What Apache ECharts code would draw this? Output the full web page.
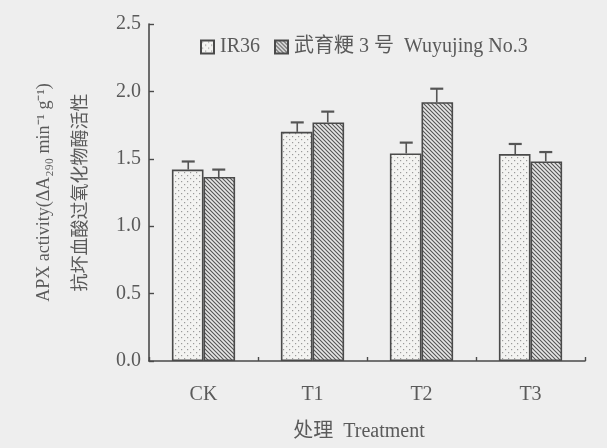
<!DOCTYPE html>
<html><head><meta charset="utf-8">
<script src="https://cdn.jsdelivr.net/npm/echarts@6/dist/echarts.min.js"></script>
<style>html,body{margin:0;padding:0;background:#eeeeee}#c{width:607px;height:448px}</style>
</head><body><div id="c"></div>
<script>
const categories = ['CK', 'T1', 'T2', 'T3'];
const ir36 = [1.42, 1.70, 1.54, 1.535];
const ir36Err = [0.06, 0.07, 0.08, 0.075];
const wyj = [1.365, 1.77, 1.92, 1.48];
const wyjErr = [0.055, 0.08, 0.10, 0.07];
const seriesNames = ['IR36', '武育粳 3 号  Wuyujing No.3'];
const yTicks = [0, 0.5, 1.0, 1.5, 2.0, 2.5];

function dotPattern() {
  const c = document.createElement('canvas'); c.width = 6; c.height = 6;
  const g = c.getContext('2d');
  g.fillStyle = '#f3f3f1'; g.fillRect(0, 0, 6, 6);
  g.fillStyle = '#9a9a9a';
  g.fillRect(1, 1, 1.2, 1.2); g.fillRect(4, 4, 1.2, 1.2);
  return c;
}
function hatchPattern() {
  const s = 4;
  const c = document.createElement('canvas'); c.width = s; c.height = s;
  const g = c.getContext('2d');
  g.fillStyle = '#e6e6e6'; g.fillRect(0, 0, s, s);
  g.strokeStyle = '#555'; g.lineWidth = 1.1;
  g.beginPath();
  g.moveTo(-1, -1); g.lineTo(s + 1, s + 1);
  g.moveTo(-1, s - 1); g.lineTo(1, s + 1);
  g.moveTo(s - 1, -1); g.lineTo(s + 1, 1);
  g.stroke();
  return c;
}

const font = "'Liberation Serif', 'Noto Sans CJK SC', serif";
const txt = '#5a5a5a';

function errSeries(vals, errs, side) {
  return {
    type: 'custom',
    z: 5,
    silent: true,
    data: vals.map((v, i) => [i, v, errs[i]]),
    encode: { x: 0, y: 1 },
    renderItem: function (params, api) {
      const i = api.value(0), v = api.value(1), e = api.value(2);
      const band = api.size([1, 0])[0];
      const off = band * 0.14 * side;
      const p0 = api.coord([i, v]);
      const p1 = api.coord([i, v + e]);
      const x = p0[0] + off;
      const cap = 6.5;
      return {
        type: 'group',
        children: [
          { type: 'line', shape: { x1: x, y1: p0[1], x2: x, y2: p1[1] }, style: { stroke: '#555', lineWidth: 1.6 } },
          { type: 'line', shape: { x1: x - cap, y1: p1[1], x2: x + cap, y2: p1[1] }, style: { stroke: '#555', lineWidth: 2.2 } }
        ]
      };
    }
  };
}

const chart = echarts.init(document.getElementById('c'));
chart.setOption({
  backgroundColor: '#eeeeee',
  animation: false,
  grid: { left: 149, right: 22, top: 24, bottom: 87 },
  legend: {
    left: 195, top: 32,
    itemWidth: 13, itemHeight: 13, itemGap: 14,
    icon: 'rect',
    data: seriesNames,
    textStyle: { fontFamily: font, fontSize: 20, color: txt, padding: [0, 0, 0, 1] }
  },
  xAxis: {
    type: 'category',
    data: categories,
    name: '处理  Treatment',
    nameLocation: 'middle',
    nameGap: 61,
    nameTextStyle: { fontFamily: font, fontSize: 20, color: txt, padding: [0, 16, 0, 0] },
    axisLine: { lineStyle: { color: '#4a4a4a', width: 1.6 } },
    axisTick: { show: true, inside: true, length: 4, lineStyle: { color: '#4a4a4a', width: 1.4 } },
    axisLabel: { fontFamily: font, fontSize: 20, color: txt, margin: 24 }
  },
  yAxis: {
    type: 'value',
    min: 0, max: 2.5, interval: 0.5,
    name: '{a|APX activity(ΔA₂₉₀ min⁻¹ g⁻¹)}\n{b|抗坏血酸过氧化物酶活性}',
    nameLocation: 'middle',
    nameRotate: 90,
    nameGap: 49,
    nameTextStyle: {
      fontFamily: font, fontSize: 18, color: txt,
      rich: {
        a: { fontFamily: font, fontSize: 18, color: txt, lineHeight: 37 },
        b: { fontFamily: font, fontSize: 18, color: txt, lineHeight: 37 }
      }
    },
    axisLine: { show: true, lineStyle: { color: '#4a4a4a', width: 1.6 } },
    axisTick: { show: true, inside: true, length: 5, lineStyle: { color: '#4a4a4a', width: 1.4 } },
    splitLine: { show: false },
    axisLabel: {
      fontFamily: font, fontSize: 20, color: txt, margin: 8,
      formatter: v => yTicks.includes(v) ? v.toFixed(1) : ''
    }
  },
  series: [
    {
      name: seriesNames[0], type: 'bar', data: ir36,
      barWidth: '29%', barGap: '0%',
      itemStyle: { color: { image: dotPattern(), repeat: 'repeat' }, borderColor: '#4a4a4a', borderWidth: 1.6 }
    },
    {
      name: seriesNames[1], type: 'bar', data: wyj,
      barWidth: '29%', barGap: '0%',
      itemStyle: { color: { image: hatchPattern(), repeat: 'repeat' }, borderColor: '#4a4a4a', borderWidth: 1.6 }
    },
    errSeries(ir36, ir36Err, -1),
    errSeries(wyj, wyjErr, 1)
  ]
});
</script></body></html>
